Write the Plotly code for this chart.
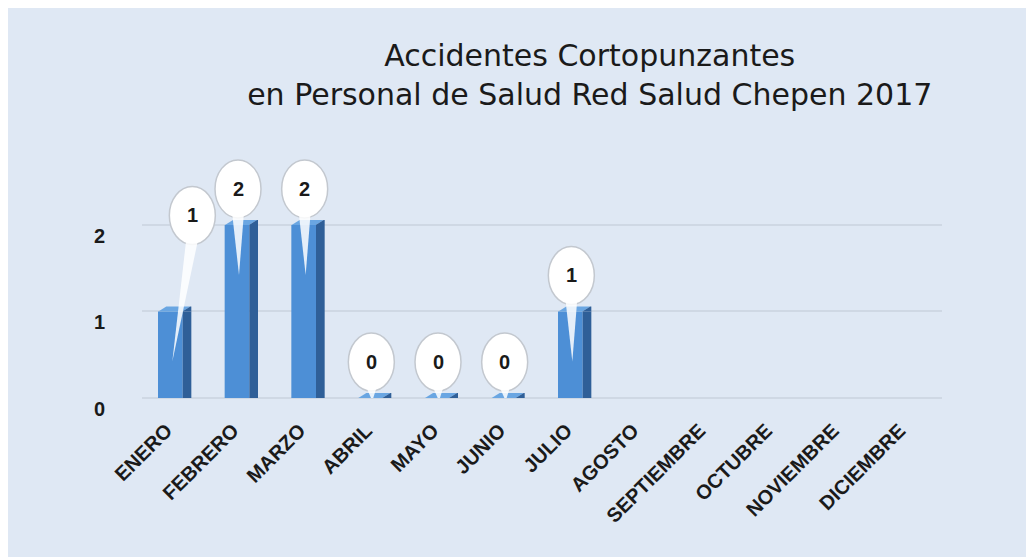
import plotly.graph_objects as go

# ---- data ----
meses = ["ENERO", "FEBRERO", "MARZO", "ABRIL", "MAYO", "JUNIO", "JULIO",
         "AGOSTO", "SEPTIEMBRE", "OCTUBRE", "NOVIEMBRE", "DICIEMBRE"]
accidentes = [1, 2, 2, 0, 0, 0, 1, None, None, None, None, None]
titulo = "Accidentes Cortopunzantes<br>en Personal de Salud Red Salud Chepen 2017"
y_ticks = [0, 1, 2]

# ---- style ----
PANEL = "#dfe8f4"
FRONT = "#4d8fd6"
SIDE = "#2f5f98"
TOP = "#6aa6e2"
GRID = "#cfd8e4"
TXT = "#1a1a1a"
callout_default = (-4, 36)          # bubble centre offset (px) from the bar top
callout_special = {"ENERO": (17, 96)}
tail_tip_inside = -50               # tail tip below bar top (px)
BW, BH = 23, 29                     # bubble half-width / half-height (px)

fig = go.Figure()
fig.add_trace(go.Bar(x=meses, y=accidentes, width=0.37, offset=-0.26,
                     marker=dict(color=FRONT, line=dict(width=0)),
                     hoverinfo="skip"))
fig.add_trace(go.Bar(x=meses, y=accidentes, width=0.13, offset=0.11,
                     marker=dict(color=SIDE, line=dict(width=0)),
                     hoverinfo="skip"))

shapes = []
annotations = []
# 3-D tops of the bars
for m, v in zip(meses, accidentes):
    if v is None:
        continue
    shapes.append(dict(type="path", xref="x", yref="y",
                       xsizemode="pixel", ysizemode="pixel",
                       xanchor=m, yanchor=v,
                       path="M -17,0 L 7,0 L 15,5 L -9,5 Z",
                       fillcolor=TOP, line=dict(width=0), layer="above"))
    shapes.append(dict(type="path", xref="x", yref="y",
                       xsizemode="pixel", ysizemode="pixel",
                       xanchor=m, yanchor=v,
                       path="M 7,0 L 15,5 L 16,5 L 16,0 Z",
                       fillcolor=SIDE, line=dict(width=0), layer="above"))
# call-out bubbles
for m, v in zip(meses, accidentes):
    if v is None:
        continue
    dx, dy = callout_special.get(m, callout_default)
    tip_y = tail_tip_inside if v > 0 else -3
    tip_x = -3
    shapes.append(dict(type="circle", xref="x", yref="y",
                       xsizemode="pixel", ysizemode="pixel",
                       xanchor=m, yanchor=v,
                       x0=dx - BW, x1=dx + BW, y0=dy - BH, y1=dy + BH,
                       fillcolor="white", line=dict(color="#c3c8cf", width=1.5),
                       layer="above"))
    path = (f"M {dx - 6},{dy - BH + 6} L {tip_x},{tip_y} "
            f"L {dx + 6},{dy - BH + 6} Z")
    shapes.append(dict(type="path", xref="x", yref="y",
                       xsizemode="pixel", ysizemode="pixel",
                       xanchor=m, yanchor=v, path=path,
                       fillcolor="rgba(255,255,255,0.85)",
                       line=dict(width=0), layer="above"))
    annotations.append(dict(x=m, y=v, xref="x", yref="y", text=str(v),
                            showarrow=False, xshift=dx, yshift=dy,
                            font=dict(family="Liberation Sans, Arial", size=20,
                                      color=TXT, weight="bold")))

fig.update_layout(
    width=1026, height=549,
    margin=dict(l=134, r=92, t=139, b=159),
    paper_bgcolor=PANEL, plot_bgcolor=PANEL,
    barmode="overlay", showlegend=False,
    title=dict(text=titulo, x=0.567, xref="container", xanchor="center",
               y=0.895, yref="container", yanchor="top",
               font=dict(family="DejaVu Sans", size=30, color=TXT)),
    shapes=shapes, annotations=annotations,
    xaxis=dict(tickangle=-45, showgrid=False, showline=False, ticks="",
               ticklabelstandoff=16, ticklabelshift=-9,
               tickfont=dict(family="Liberation Sans, Arial", size=20,
                             color=TXT, weight="bold")),
    yaxis=dict(range=[0, 2.9], tickvals=y_ticks, showgrid=True,
               gridcolor=GRID, gridwidth=2, zeroline=True, zerolinecolor=GRID,
               zerolinewidth=2, showline=False, ticks="",
               ticklabelstandoff=36, ticklabelshift=11,
               tickfont=dict(family="Liberation Sans, Arial", size=20,
                             color=TXT, weight="bold")),
)

fig.write_html("out.html")
